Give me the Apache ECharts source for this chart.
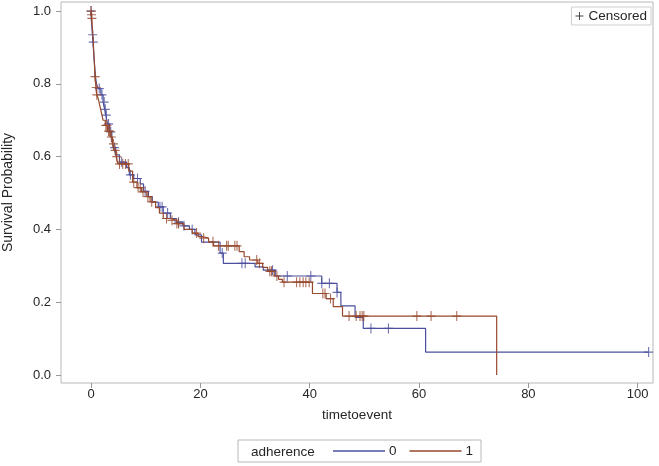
<!DOCTYPE html>
<html><head><meta charset="utf-8">
<script src="https://cdn.jsdelivr.net/npm/echarts@6/dist/echarts.min.js"></script>
<style>html,body{margin:0;padding:0;background:#fff}#c{width:659px;height:466px}</style>
</head><body><div id="c"></div>
<script>
// Group 0 (adherence = 0): KM event steps [time, survival after drop]
const events0 = [[0,1],[0.05,0.975],[0.15,0.955],[0.25,0.935],[0.35,0.915],[0.5,0.88],[0.65,0.85],[0.8,0.82],[1.0,0.80],[1.3,0.787],[1.8,0.77],[2.2,0.75],[2.5,0.73],[2.7,0.714],[3.0,0.69],[3.4,0.668],[3.8,0.645],[4.1,0.625],[4.5,0.605],[5.2,0.585],[6.5,0.57],[7.0,0.55],[7.8,0.54],[9.0,0.525],[9.6,0.505],[10.5,0.49],[11.2,0.475],[12.3,0.462],[13.2,0.445],[14.5,0.43],[15.6,0.42],[16.8,0.41],[18.0,0.40],[19.0,0.385],[20.2,0.365],[23.6,0.335],[24.2,0.307],[30.0,0.297],[31.5,0.288],[33.7,0.272],[42.2,0.252],[45.0,0.227],[45.7,0.19],[48.3,0.158],[49.8,0.128],[61.2,0.063],[102,0.063]];
const censor0 = [[0,1.0],[0.3,0.935],[0.4,0.915],[1.5,0.787],[2.0,0.77],[2.4,0.75],[2.6,0.73],[2.8,0.714],[3.2,0.69],[3.6,0.668],[4.3,0.625],[5.6,0.585],[7.2,0.55],[8.5,0.54],[9.9,0.505],[12.6,0.462],[13.0,0.462],[14.0,0.445],[16.0,0.42],[17.0,0.41],[18.5,0.40],[24.0,0.335],[27.6,0.307],[28.2,0.307],[33.2,0.288],[35.9,0.272],[40.2,0.272],[42.2,0.252],[43.6,0.252],[45.0,0.227],[51.2,0.128],[54.4,0.128],[102,0.063]];
// Group 1 (adherence = 1)
const events1 = [[0,1],[0.05,0.99],[0.1,0.98],[0.2,0.96],[0.3,0.94],[0.45,0.90],[0.6,0.86],[0.73,0.82],[0.9,0.79],[1.05,0.77],[1.3,0.76],[1.6,0.74],[1.9,0.72],[2.2,0.70],[2.6,0.686],[3.0,0.67],[3.5,0.654],[3.9,0.635],[4.2,0.617],[4.6,0.60],[4.9,0.58],[6.9,0.56],[7.6,0.53],[8.4,0.515],[9.2,0.503],[10.2,0.49],[10.8,0.476],[11.8,0.46],[12.5,0.445],[13.2,0.43],[14.5,0.425],[15.7,0.416],[17.0,0.40],[18.5,0.39],[19.6,0.38],[20.5,0.376],[21.5,0.366],[22.4,0.355],[27.1,0.339],[28.0,0.325],[29.0,0.316],[30.5,0.307],[31.4,0.296],[32.3,0.285],[33.5,0.272],[34.3,0.263],[35.0,0.255],[40.5,0.224],[43.0,0.21],[44.3,0.188],[46.0,0.162],[74.2,0.0]];
const censor1 = [[0,1.0],[0.08,0.99],[0.15,0.98],[0.73,0.82],[0.95,0.79],[1.05,0.77],[2.7,0.686],[2.9,0.686],[3.2,0.67],[3.4,0.67],[3.7,0.654],[4.1,0.635],[4.4,0.617],[4.7,0.60],[5.2,0.58],[5.8,0.58],[6.3,0.58],[6.8,0.58],[7.8,0.53],[8.6,0.515],[9.0,0.515],[9.5,0.503],[10.4,0.49],[11.1,0.476],[13.8,0.43],[14.8,0.425],[15.7,0.416],[16.0,0.416],[19.3,0.39],[20.6,0.376],[22.3,0.366],[23.3,0.355],[24.8,0.355],[25.1,0.355],[26.3,0.355],[26.7,0.355],[30.3,0.316],[30.8,0.307],[32.7,0.285],[33.0,0.285],[34.0,0.272],[35.3,0.255],[37.6,0.255],[38.2,0.255],[38.8,0.255],[39.3,0.255],[39.9,0.255],[42.4,0.224],[42.8,0.224],[43.8,0.21],[47.2,0.162],[48.5,0.162],[49.2,0.162],[49.6,0.162],[49.9,0.162],[59.6,0.162],[62.2,0.162],[66.9,0.162]];
const xTicks = [0,20,40,60,80,100];
const yTicks = [0,0.2,0.4,0.6,0.8,1.0];
const groupNames = ['0','1'];

const C0 = '#4b4f9c', C1 = '#97492e';
const plus = 'path://M4.4,0 L5.6,0 L5.6,4.4 L10,4.4 L10,5.6 L5.6,5.6 L5.6,10 L4.4,10 L4.4,5.6 L0,5.6 L0,4.4 L4.4,4.4 Z';
const font = 'Liberation Sans, Arial, sans-serif';
const txt = '#262626';
const chart = echarts.init(document.getElementById('c'));
chart.setOption({
  animation: false,
  textStyle: {fontFamily: font},
  grid: {left: 61, right: 6, top: 2, bottom: 83, show: true, borderColor: '#b8b8b8', borderWidth: 1, containLabel: false, outerBoundsMode: 'none'},
  xAxis: {type: 'value', min: -5.5, max: 102.8, name: 'timetoevent', nameLocation: 'middle', nameGap: 25,
    nameTextStyle: {fontSize: 13.5, color: txt, fontFamily: font},
    axisLine: {show: false, onZero: false}, splitLine: {show: false},
    axisTick: {show: true, length: 5, customValues: xTicks, lineStyle: {color: '#999'}},
    axisLabel: {customValues: xTicks, margin: 5, fontSize: 13, color: txt, fontFamily: font}},
  yAxis: {type: 'value', min: -0.022, max: 1.025, name: 'Survival Probability', nameLocation: 'middle', nameGap: 46,
    nameTextStyle: {fontSize: 14, color: txt, fontFamily: font},
    axisLine: {show: false, onZero: false}, splitLine: {show: false},
    axisTick: {show: true, length: 5, customValues: yTicks, lineStyle: {color: '#999'}},
    axisLabel: {customValues: yTicks, margin: 10, fontSize: 13, color: txt, fontFamily: font, formatter: v => v.toFixed(1)}},
  legend: [{
    data: [{name: groupNames[0], icon: 'rect'}, {name: groupNames[1], icon: 'rect'}],
    left: 238, top: 440, itemWidth: 52, itemHeight: 1.5, itemGap: 13,
    padding: [4, 8, 4, 95], borderColor: '#b8b8b8', borderWidth: 1,
    textStyle: {fontSize: 13.5, color: txt, fontFamily: font, padding: [0,0,0,-1]}, selectedMode: false
  }, {
    data: [{name: 'Censored', icon: plus, itemStyle: {color: '#111'}}],
    right: 8, top: 7, itemWidth: 8, itemHeight: 8, itemGap: 3,
    padding: [2, 4, 2, 4], borderColor: '#cfcfcf', borderWidth: 1,
    textStyle: {fontSize: 13.5, color: txt, fontFamily: font}, selectedMode: false
  }],
  graphic: [{type: 'text', left: 251, top: 445, style: {text: 'adherence', font: '13.5px ' + font, fill: txt}}],
  series: [
    {name: groupNames[0], type: 'line', step: 'end', data: events0, showSymbol: false, symbol: 'none', lineStyle: {color: C0, width: 1.2}, itemStyle: {color: C0}, z: 2},
    {name: 'Censored', type: 'scatter', data: censor0, symbol: plus, symbolSize: [9, 10], itemStyle: {color: C0}, z: 3},
    {name: groupNames[1], type: 'line', step: 'end', data: events1, showSymbol: false, symbol: 'none', lineStyle: {color: C1, width: 1.2}, itemStyle: {color: C1}, z: 4},
    {name: 'Censored', type: 'scatter', data: censor1, symbol: plus, symbolSize: [9, 10], itemStyle: {color: C1}, z: 5}
  ]
});
</script></body></html>
